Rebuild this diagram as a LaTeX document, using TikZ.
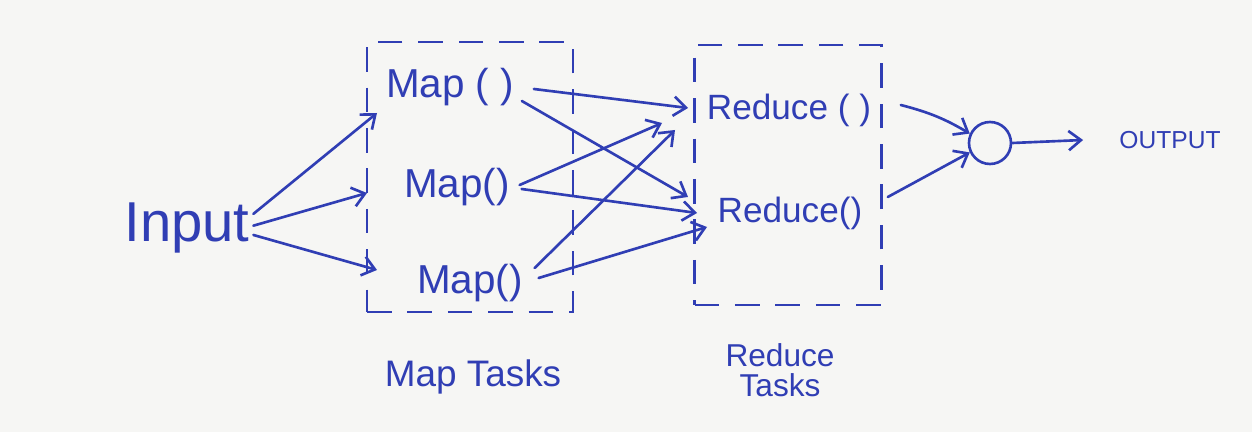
\documentclass[tikz,border=0pt]{standalone}
\usepackage{fontspec}
\setmainfont{Liberation Sans}
\usetikzlibrary{arrows.meta}
\definecolor{ink}{RGB}{48,62,180}
\definecolor{paper}{RGB}{246,246,244}
\begin{document}
\begin{tikzpicture}[x=0.02cm,y=-0.02cm,
  every node/.style={text=ink, inner sep=2pt},
  bigf/.style={font=\fontsize{32}{34}\selectfont},
  mapf/.style={font=\fontsize{23}{25}\selectfont},
  redf/.style={font=\fontsize{20}{22}\selectfont},
  taskbox/.style={draw=ink, line width=1.5pt, dash pattern=on 14pt off 9pt, rectangle},
  arr/.style={draw=ink, line width=1.5pt, line cap=round, -{Straight Barb[length=7pt,width=11pt]}},
  ]
\fill[paper] (0,0) rectangle (1252,432);
\useasboundingbox (0,0) rectangle (1252,432);

% task boxes
\node[taskbox, minimum width=4.12cm, minimum height=5.4cm] (mapbox) at (470,177) {};
\node[taskbox, minimum width=3.74cm, minimum height=5.2cm] (redbox) at (788,175) {};

% texts
\node[bigf] (in) at (187,228) {Input};
\node[mapf] (m1) at (450,87) {Map ( )};
\node[mapf] (m2) at (457,187) {Map()};
\node[mapf] (m3) at (470,283) {Map()};
\node[redf] (r1) at (789,110) {Reduce ( )};
\node[redf] (r2) at (790,213) {Reduce()};
\node[circle, draw=ink, line width=1.5pt, minimum size=0.84cm, inner sep=0pt] (c) at (990,143) {};
\node[font=\fontsize{14}{16}\selectfont] (out) at (1170,140) {OUTPUT};
\node[font=\fontsize{21}{23}\selectfont] (mt) at (473,377) {Map Tasks};
\node[font=\fontsize{18}{17}\selectfont, align=center] (rt) at (780,370) {Reduce\\Tasks};

% arrow heads
\coordinate (h1) at (377,113);
\coordinate (h2) at (367,193);
\coordinate (h3) at (377,270);
\coordinate (ra) at (688,108);
\coordinate (rb) at (662,123);
\coordinate (rc) at (675,130);
\coordinate (sa) at (688,197);
\coordinate (sb) at (697,213);
\coordinate (sc) at (707,227);
\coordinate (t1) at ([shift={(18,-70)}]redbox.east);
\coordinate (t2) at ([shift={(5,22)}]redbox.east);

% input to maps
\draw[arr] (in.12) -- (h1);
\draw[arr] (in.2) -- (h2);
\draw[arr] (in.-6) -- (h3);

% maps to reduces
\draw[arr] ([shift={(16,2)}]m1.east) -- (ra);
\draw[arr] ([shift={(4,14)}]m1.east) -- (sa);
\draw[arr] ([shift={(6,-2)}]m2.east) -- (rb);
\draw[arr] ([shift={(8,2)}]m2.east) -- (sb);
\draw[arr] ([shift={(8,-15)}]m3.east) -- (rc);
\draw[arr] ([shift={(12,-5)}]m3.east) -- (sc);

% reduces to combiner
\draw[arr] (t1) to[bend left=8] (c.155);
\draw[arr] (t2) -- (c.205);
\draw[arr] (c.east) -- ([xshift=-0.65cm]out.west);
\end{tikzpicture}
\end{document}
